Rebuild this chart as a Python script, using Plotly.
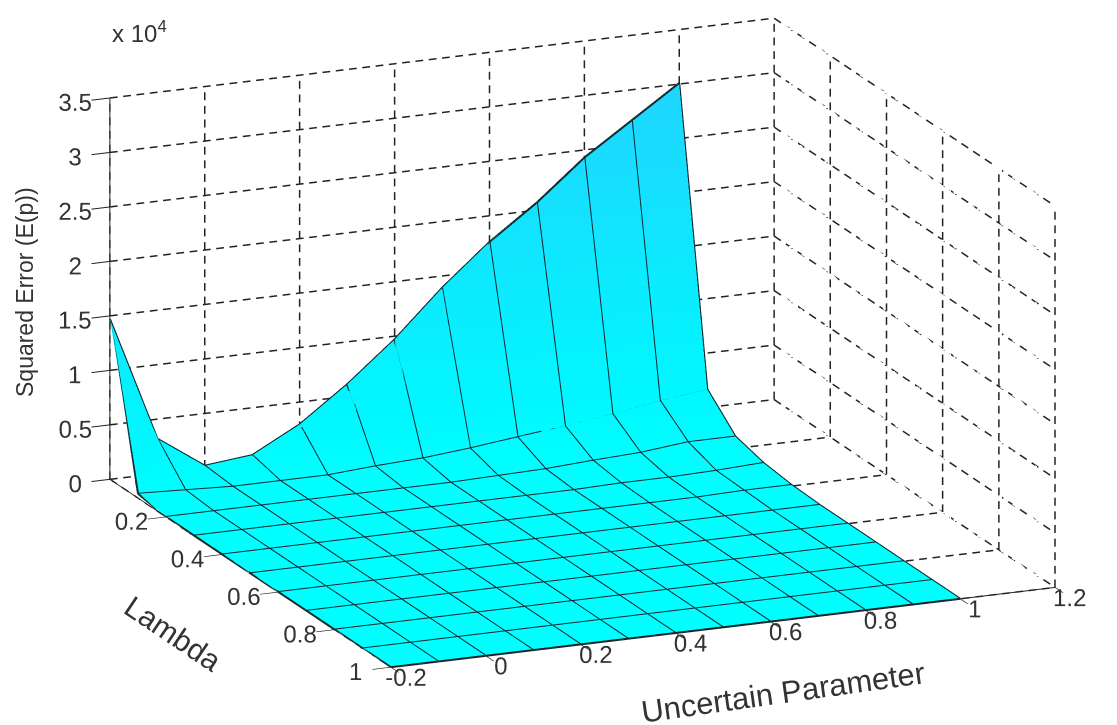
import plotly.graph_objects as go

uncertain = [-0.2, -0.1, 0.0, 0.1, 0.2, 0.3, 0.4, 0.5, 0.6, 0.7, 0.8, 0.9, 1.0]
lambdas = [0.0, 0.1, 0.2, 0.3, 0.4, 0.5, 0.6, 0.7, 0.8, 0.9, 1.0]
# Squared error in units of 10^4, one row per lambda
row_00 = [1.47, 0.32, 0.02, 0.065, 0.295, 0.61, 0.97, 1.39, 1.76, 2.07, 2.43, 2.72, 3.01]
row_01 = [0.04, 0.02, 0.00, 0.00, 0.00, 0.03, 0.05, 0.09, 0.14, 0.19, 0.25, 0.32, 0.37]
row_02 = [0.00, 0.00, 0.00, 0.00, 0.00, 0.00, 0.00, 0.01, 0.02, 0.045, 0.065, 0.11, 0.11]
row_03 = [0.00, 0.00, 0.00, 0.00, 0.00, 0.00, 0.00, 0.00, 0.00, 0.01, 0.01, 0.02, 0.04]
row_04 = [0.00, 0.00, 0.00, 0.00, 0.00, 0.00, 0.00, 0.00, 0.00, 0.00, 0.00, 0.01, 0.01]
row_05 = [0.0] * 13
row_06 = [0.0] * 13
row_07 = [0.0] * 13
row_08 = [0.0] * 13
row_09 = [0.0] * 13
row_10 = [0.0] * 13
z_values = [row_00, row_01, row_02, row_03, row_04, row_05, row_06, row_07, row_08, row_09, row_10]

x_ticks = [-0.2, 0, 0.2, 0.4, 0.6, 0.8, 1, 1.2]
x_labels = ["-0.2", "0", "0.2", "0.4", "0.6", "0.8", "1", "1.2"]
y_ticks = [0, 0.2, 0.4, 0.6, 0.8, 1]
y_labels = ["0", "0.2", "0.4", "0.6", "0.8", "1"]
z_ticks = [0, 0.5, 1, 1.5, 2, 2.5, 3, 3.5]
z_labels = ["0", "0.5", "1", "1.5", "2", "2.5", "3", "3.5"]

x0, x1 = x_ticks[0], x_ticks[-1]
y0, y1 = y_ticks[0], y_ticks[-1]
z0, z1 = z_ticks[0], z_ticks[-1]

gx, gy, gz = [], [], []
def seg(a, b, n):
    # a dashed grid line from a to b, cut into n dashes
    for k in range(n):
        s, e = k / n, (k + 0.58) / n
        for t in (s, e):
            gx.append(a[0] + (b[0] - a[0]) * t)
            gy.append(a[1] + (b[1] - a[1]) * t)
            gz.append(a[2] + (b[2] - a[2]) * t)
        gx.append(None); gy.append(None); gz.append(None)

for z in z_ticks:
    seg((x0, y0, z), (x1, y0, z), 50)
    seg((x1, y0, z), (x1, y1, z), 24)
for x in x_ticks:
    seg((x, y0, z0), (x, y0, z1), 28)
    seg((x, y0, z0), (x, y1, z0), 24)
for y in y_ticks:
    seg((x1, y, z0), (x1, y, z1), 28)
    seg((x0, y, z0), (x1, y, z0), 50)

# facet outlines of the surface, taken from the data grid
mx, my, mz = [], [], []
for j, lam in enumerate(lambdas):
    for i, u in enumerate(uncertain):
        mx.append(u); my.append(lam); mz.append(z_values[j][i])
    mx.append(None); my.append(None); mz.append(None)
for i, u in enumerate(uncertain):
    for j, lam in enumerate(lambdas):
        mx.append(u); my.append(lam); mz.append(z_values[j][i])
    mx.append(None); my.append(None); mz.append(None)

fig = go.Figure()
fig.add_trace(go.Scatter3d(x=gx, y=gy, z=gz, mode="lines",
                           line=dict(color="#222222", width=3),
                           hoverinfo="skip", showlegend=False))
fig.add_trace(go.Surface(
    x=uncertain, y=lambdas, z=z_values,
    cmin=0, cmax=3.0, showscale=False, hoverinfo="skip",
    colorscale=[[0, "#00FFFF"], [0.1, "#00F8FF"], [1, "#1FD5FF"]],
    lighting=dict(ambient=1, diffuse=0, specular=0, roughness=1, fresnel=0),
    contours=dict(x=dict(highlight=False), y=dict(highlight=False), z=dict(highlight=False)),
))
fig.add_trace(go.Scatter3d(x=mx, y=my, z=mz, mode="lines",
                           line=dict(color="#0C2A30", width=4),
                           hoverinfo="skip", showlegend=False))

tickfont = dict(family="Liberation Sans, Arial, sans-serif", size=17, color="#333333")
common = dict(showgrid=False, zeroline=False, showbackground=False, showline=True,
              linecolor="#222222", linewidth=2, ticks="outside", ticklen=20, tickangle=0,
              tickcolor="#222222", tickwidth=2, tickfont=tickfont, showspikes=False)

def text_font(size):
    return dict(family="Liberation Sans, Arial, sans-serif", size=size, color="#333333")

def note(text, px, py, size, angle=0, anchor="center"):
    return dict(text=text, x=(px - 8) / 1117, y=1 - (py - 8) / 725, xref="paper", yref="paper",
                showarrow=False, xanchor=anchor, yanchor="middle", textangle=angle, font=text_font(size))

fig.update_layout(
    width=1117, height=725, margin=dict(l=0, r=0, t=0, b=0), paper_bgcolor="white",
    showlegend=False,
    scene=dict(
        domain=dict(x=[0.0286, 1], y=[0, 1]),
        aspectmode="manual", aspectratio=dict(x=1.990, y=1.986, z=1.097),
        camera=dict(projection=dict(type="orthographic"),
                    eye=dict(x=-0.746, y=-1.76, z=0.485),
                    up=dict(x=0, y=0, z=1), center=dict(x=0, y=0, z=-0.08)),
        xaxis=dict(common, range=[x0, x1], tickvals=x_ticks, ticktext=x_labels, title=dict(text="")),
        yaxis=dict(common, range=[y1, y0], tickvals=y_ticks, ticktext=y_labels, title=dict(text="")),
        zaxis=dict(common, range=[z0, z1], tickvals=z_ticks, ticktext=z_labels, title=dict(text="")),
    ),
    annotations=[
        note("x 10<sup>4</sup>", 110, 32, 24, anchor="left"),
        note("Squared Error (E(p))", 25, 292, 23, angle=-90),
        note("Lambda", 173, 633, 30, angle=34),
        note("Uncertain Parameter", 783, 692, 31, angle=-8),
    ],
)
fig.write_html("out.html")
